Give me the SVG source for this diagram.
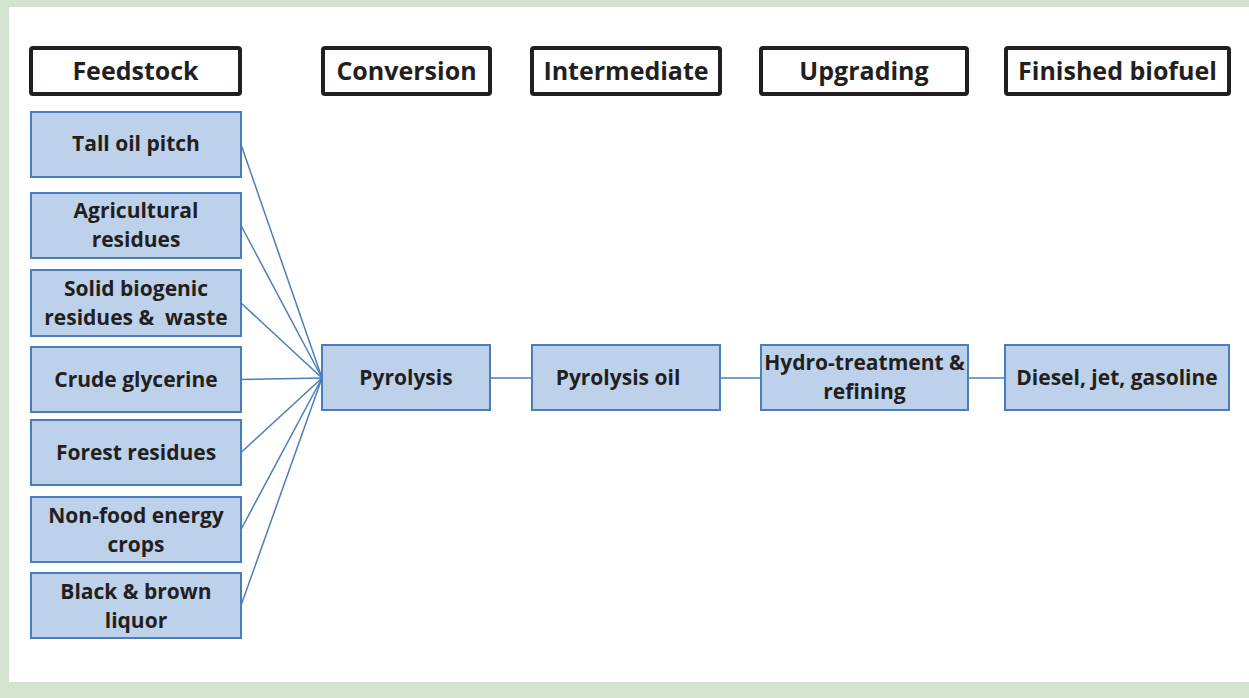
<svg xmlns="http://www.w3.org/2000/svg" width="1249" height="698" viewBox="0 0 1249 698">
<style>
.hdr rect{fill:#fff;stroke:#231f20;stroke-width:4}
.hdr text{font-size:25px}
.box rect{fill:#bdd1ea;stroke:#4a7ebb;stroke-width:2}
text{font-family:"Open Sans","Noto Sans","Liberation Sans",sans-serif;font-weight:700;font-size:21px;fill:#231f20;text-anchor:middle;dominant-baseline:central}
#connectors line{stroke:#4a7ebb;stroke-width:1.5;fill:none}
</style>
<rect x="0" y="0" width="1249" height="698" fill="#d4e3cf"/>
<rect x="9" y="7" width="1240" height="675" fill="#fff"/>
<g id="h-feedstock" class="hdr"><rect x="31" y="48" width="209" height="46" rx="2"/><text x="135.5" y="70">Feedstock</text></g>
<g id="h-conversion" class="hdr"><rect x="323" y="48" width="167" height="46" rx="2"/><text x="406.5" y="70">Conversion</text></g>
<g id="h-intermediate" class="hdr"><rect x="532" y="48" width="188" height="46" rx="2"/><text x="626" y="70">Intermediate</text></g>
<g id="h-upgrading" class="hdr"><rect x="761" y="48" width="206" height="46" rx="2"/><text x="864" y="70">Upgrading</text></g>
<g id="h-finished" class="hdr"><rect x="1006" y="48" width="223" height="46" rx="2"/><text x="1117.5" y="70">Finished biofuel</text></g>
<g id="connectors">
<line x1="241" y1="144.5" x2="322" y2="378"/>
<line x1="241" y1="225.5" x2="322" y2="378"/>
<line x1="241" y1="303" x2="322" y2="378"/>
<line x1="241" y1="379.5" x2="322" y2="378"/>
<line x1="241" y1="452.5" x2="322" y2="378"/>
<line x1="241" y1="529.5" x2="322" y2="378"/>
<line x1="241" y1="605.5" x2="322" y2="378"/>
<line x1="490" y1="378" x2="532" y2="378"/>
<line x1="720" y1="378" x2="761" y2="378"/>
<line x1="968" y1="378" x2="1005" y2="378"/>
</g>
<g id="n-tall" class="box"><rect x="31" y="112" width="210" height="65"/><text x="136" y="143">Tall oil pitch</text></g>
<g id="n-agri" class="box"><rect x="31" y="193" width="210" height="65"/><text x="136" y="210">Agricultural</text><text x="136" y="239">residues</text></g>
<g id="n-solid" class="box"><rect x="31" y="270" width="210" height="66"/><text x="136" y="288">Solid biogenic</text><text x="136" y="317" xml:space="preserve">residues &amp;  waste</text></g>
<g id="n-crude" class="box"><rect x="31" y="347" width="210" height="65"/><text x="136" y="379">Crude glycerine</text></g>
<g id="n-forest" class="box"><rect x="31" y="420" width="210" height="65"/><text x="136" y="452">Forest residues</text></g>
<g id="n-nonfood" class="box"><rect x="31" y="497" width="210" height="65"/><text x="136" y="515">Non-food energy</text><text x="136" y="544">crops</text></g>
<g id="n-black" class="box"><rect x="31" y="573" width="210" height="65"/><text x="136" y="591">Black &amp; brown</text><text x="136" y="620">liquor</text></g>
<g id="n-pyrolysis" class="box"><rect x="322" y="345" width="168" height="65"/><text x="406" y="377">Pyrolysis</text></g>
<g id="n-pyoil" class="box"><rect x="532" y="345" width="188" height="65"/><text x="618" y="377">Pyrolysis oil</text></g>
<g id="n-hydro" class="box"><rect x="761" y="345" width="207" height="65"/><text x="864.5" y="362">Hydro-treatment &amp;</text><text x="864.5" y="391">refining</text></g>
<g id="n-diesel" class="box"><rect x="1005" y="345" width="224" height="65"/><text x="1117" y="377">Diesel, jet, gasoline</text></g>
</svg>
